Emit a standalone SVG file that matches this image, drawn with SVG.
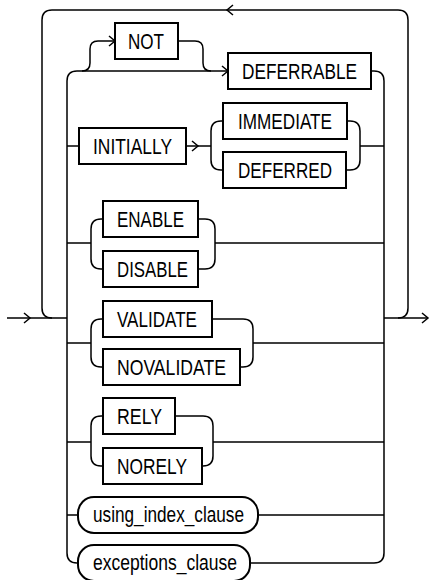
<svg xmlns="http://www.w3.org/2000/svg" width="430" height="580" viewBox="0 0 430 580">
<style>
.c{fill:none;stroke:#000;stroke-width:1.5}
.b{fill:#fff;stroke:#000;stroke-width:2}
.t{font-family:"Liberation Sans",Arial,sans-serif;font-size:22px;fill:#000}
.a{fill:none;stroke:#000;stroke-width:1.5}
</style>
<defs>
<path id="ar" class="a" d="M-6,-5 L0,0 L-6,5"/>
<path id="al" class="a" d="M6,-5 L0,0 L6,5"/>
</defs>
<rect width="430" height="580" fill="#fff"/>
<g id="connectors">
<path class="c" d="M52,318 Q42,318 42,308 V20 Q42,10 52,10 H398 Q408,10 408,20 V308 Q408,318 398,318"/>
<path class="c" d="M7,318 H67 M384,318 H428"/>
<path class="c" d="M228,71 H77 Q67,71 67,81 V553 Q67,563 77,563 H78"/>
<path class="c" d="M371,71 H374 Q384,71 384,81 V553 Q384,563 374,563 H250"/>
<path class="c" d="M82,71 Q90,71 90,63 V49 Q90,41 98,41 H115 M178,41 H195 Q203,41 203,49 V63 Q203,71 211,71"/>
<path class="c" d="M67,146 H79 M186,146 H211 M223,121 H221 Q211,121 211,131 V160 Q211,170 221,170 H223 M347,121 H350 Q360,121 360,131 V160 Q360,170 350,170 H346 M360,146 H384"/>
<path class="c" d="M67,243 H91 M103,219 H101 Q91,219 91,229 V259 Q91,269 101,269 H103 M198,219 H205 Q215,219 215,229 V259 Q215,269 205,269 H198 M215,243 H384"/>
<path class="c" d="M67,343 H91 M103,319 H101 Q91,319 91,329 V357 Q91,367 101,367 H103 M212,319 H243 Q253,319 253,329 V357 Q253,367 243,367 H240 M253,343 H384"/>
<path class="c" d="M67,442 H91 M103,416 H101 Q91,416 91,426 V456 Q91,466 101,466 H103 M175,416 H203 Q213,416 213,426 V456 Q213,466 203,466 H202 M213,442 H384"/>
<path class="c" d="M67,515 H78 M258,515 H384"/>
<use href="#ar" x="115" y="41"/>
<use href="#ar" x="228" y="71"/>
<use href="#ar" x="198" y="146"/>
<use href="#ar" x="30" y="318"/>
<use href="#ar" x="428" y="318"/>
<use href="#al" x="227" y="10"/>
</g>
<g id="not"><rect class="b" x="115" y="23" width="63" height="36"/><text class="t" x="128" y="48.5" textLength="36" lengthAdjust="spacingAndGlyphs">NOT</text></g>
<g id="deferrable"><rect class="b" x="228" y="53" width="143" height="36"/><text class="t" x="242" y="78.5" textLength="115" lengthAdjust="spacingAndGlyphs">DEFERRABLE</text></g>
<g id="initially"><rect class="b" x="79" y="128" width="107" height="36"/><text class="t" x="93" y="153.5" textLength="79" lengthAdjust="spacingAndGlyphs">INITIALLY</text></g>
<g id="immediate"><rect class="b" x="223" y="103" width="124" height="36"/><text class="t" x="238" y="128.5" textLength="94" lengthAdjust="spacingAndGlyphs">IMMEDIATE</text></g>
<g id="deferred"><rect class="b" x="223" y="152" width="123" height="36"/><text class="t" x="238" y="177.5" textLength="94" lengthAdjust="spacingAndGlyphs">DEFERRED</text></g>
<g id="enable"><rect class="b" x="103" y="201" width="95" height="36"/><text class="t" x="117" y="226.5" textLength="67" lengthAdjust="spacingAndGlyphs">ENABLE</text></g>
<g id="disable"><rect class="b" x="103" y="251" width="95" height="36"/><text class="t" x="117" y="276.5" textLength="71" lengthAdjust="spacingAndGlyphs">DISABLE</text></g>
<g id="validate"><rect class="b" x="103" y="301" width="109" height="36"/><text class="t" x="117" y="326.5" textLength="80" lengthAdjust="spacingAndGlyphs">VALIDATE</text></g>
<g id="novalidate"><rect class="b" x="103" y="349" width="137" height="36"/><text class="t" x="117" y="374.5" textLength="109" lengthAdjust="spacingAndGlyphs">NOVALIDATE</text></g>
<g id="rely"><rect class="b" x="103" y="398" width="72" height="36"/><text class="t" x="117" y="423.5" textLength="45" lengthAdjust="spacingAndGlyphs">RELY</text></g>
<g id="norely"><rect class="b" x="103" y="448" width="99" height="36"/><text class="t" x="117" y="473.5" textLength="70" lengthAdjust="spacingAndGlyphs">NORELY</text></g>
<g id="using_index_clause"><rect class="b" x="78" y="497" width="180" height="36" rx="16"/><text class="t" x="93" y="521.5" textLength="151" lengthAdjust="spacingAndGlyphs">using_index_clause</text></g>
<g id="exceptions_clause"><rect class="b" x="78" y="545" width="172" height="36" rx="16"/><text class="t" x="93" y="569.5" textLength="144" lengthAdjust="spacingAndGlyphs">exceptions_clause</text></g>
</svg>
